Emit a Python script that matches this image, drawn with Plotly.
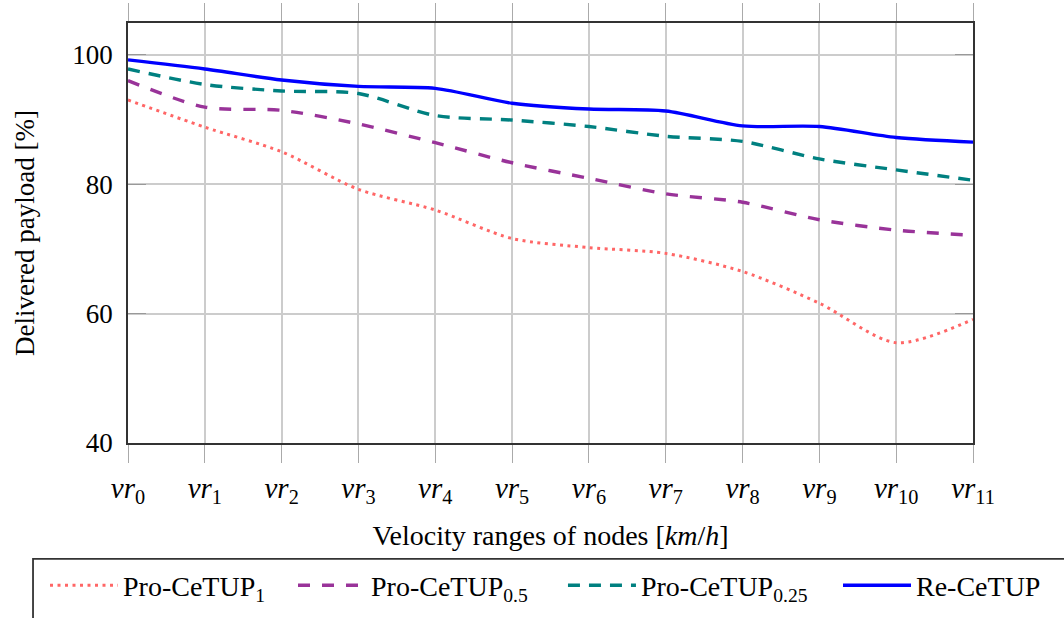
import plotly.graph_objects as go

# Velocity range categories (x axis)
ranges = [f"<i>vr</i><sub>{i}</sub>" for i in range(12)]

# Delivered payload [%] per velocity range
pro_1 = [93.0, 88.8, 85.0, 79.2, 76.0, 71.6, 70.2, 69.3, 66.5, 61.6, 55.5, 59.1]
pro_05 = [96.0, 91.9, 91.4, 89.3, 86.4, 83.3, 80.9, 78.5, 77.2, 74.5, 72.9, 72.1]
pro_025 = [97.8, 95.4, 94.4, 94.0, 90.6, 89.9, 88.9, 87.4, 86.6, 83.9, 82.2, 80.6]
re_cetup = [99.2, 97.8, 96.1, 95.1, 94.8, 92.5, 91.6, 91.3, 89.0, 88.9, 87.2, 86.5]

# name, values, colour, dash, width, legend id, legend x (container fraction)
series = [
    ("Pro-CeTUP<sub>1</sub>", pro_1, "#FF6666", "3px,4.5px", 3, "legend", 0.0423),
    ("Pro-CeTUP<sub>0.5</sub>", pro_05, "#993399", "12px,12px", 3.4, "legend2", 0.2754),
    ("Pro-CeTUP<sub>0.25</sub>", pro_025, "#008080", "12px,9px", 3.4, "legend3", 0.5291),
    ("Re-CeTUP", re_cetup, "#0000FF", "solid", 3.4, "legend4", 0.7876),
]

xs = list(range(len(ranges)))

fig = go.Figure()
legends = {}
for name, vals, color, dash, width, leg, lx in series:
    fig.add_trace(go.Scatter(
        x=xs, y=vals, name=name, mode="lines", legend=leg,
        line=dict(color=color, dash=dash, width=width, shape="spline", smoothing=0.8),
    ))
    # one legend box per entry so the whole row fits on a single line
    legends[leg] = dict(
        orientation="h",
        xref="container", yref="container",
        x=lx, xanchor="left",
        y=0.093, yanchor="top",
        font=dict(size=28),
        bgcolor="rgba(0,0,0,0)",
        borderwidth=0,
        itemwidth=68,
    )

font_family = "Liberation Serif, Times New Roman, serif"

fig.update_layout(
    width=1064, height=618,
    margin=dict(l=128, r=91, t=23, b=175),
    paper_bgcolor="white", plot_bgcolor="white",
    font=dict(family=font_family, size=27, color="black"),
    showlegend=True,
    **legends,
    xaxis=dict(
        range=[0, 11],
        tickvals=xs, ticktext=ranges,
        showgrid=True, gridcolor="#CCCCCC", gridwidth=1.5,
        zeroline=False, automargin=False,
        showline=True, linecolor="#333333", linewidth=1.8, mirror="allticks",
        ticks="outside", ticklen=18, tickcolor="#AAAAAA", tickwidth=1.2,
        tickfont=dict(size=29),
        title=dict(text="Velocity ranges of nodes [<i>km</i>/<i>h</i>]", standoff=19,
                   font=dict(size=28)),
    ),
    yaxis=dict(
        range=[40, 104.9],
        tickvals=[40, 60, 80, 100],
        showgrid=True, gridcolor="#CCCCCC", gridwidth=1.5,
        zeroline=False, automargin=False,
        showline=True, linecolor="#333333", linewidth=1.8, mirror="allticks",
        ticks="inside", ticklen=18, tickcolor="#999999", tickwidth=1.2,
        tickfont=dict(size=27), ticklabelstandoff=8,
        title=dict(text="Delivered payload [%]", standoff=30, font=dict(size=27)),
    ),
    shapes=[
        # frame around the legend row
        dict(type="rect", xref="paper", yref="paper",
             x0=-0.1124, x1=1.2, y0=-0.276, y1=-0.6,
             line=dict(color="#333333", width=1.8), fillcolor="rgba(0,0,0,0)",
             layer="below"),
    ],
)

fig.write_html("out.html")
